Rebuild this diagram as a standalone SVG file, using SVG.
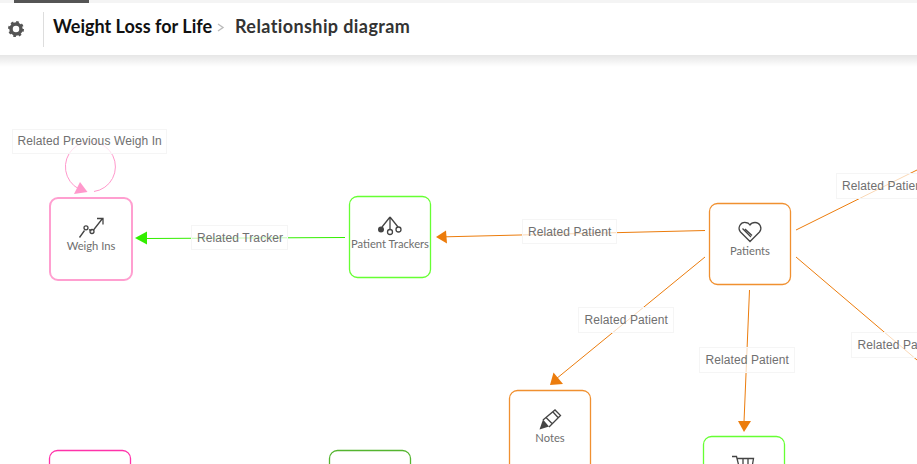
<svg xmlns="http://www.w3.org/2000/svg" width="917" height="464" viewBox="0 0 917 464">
<style>
.node{fill:#fff;stroke-width:1.3}
.nl{font-family:"Lato","Liberation Sans",sans-serif;font-size:11.2px;fill:#6e6e6e;text-anchor:middle}
.el{font-family:"Liberation Sans",Arial,sans-serif;font-size:12px;fill:#707070;letter-spacing:.1px}
.lb{fill:#fff;fill-opacity:.7;stroke:#f5f5f5;stroke-width:1}
.ic{fill:none;stroke:#444;stroke-width:1.3}
.or{stroke:#ec7c0c;stroke-width:1;fill:none}
.h{font-family:"Lato","Liberation Sans",sans-serif;font-size:18px;font-weight:700}
</style>
<defs><linearGradient id="sh" x1="0" y1="0" x2="0" y2="1"><stop offset="0" stop-color="#000" stop-opacity=".1"/><stop offset="1" stop-color="#000" stop-opacity="0"/></linearGradient></defs>
<rect width="917" height="464" fill="#fff"/>
<g id="header">
<rect width="917" height="3" fill="#f4f4f4"/>
<rect x="14" width="75" height="3" fill="#555"/>
<rect y="55" width="917" height="12" fill="url(#sh)"/>
<line x1="43.5" y1="12" x2="43.5" y2="47" stroke="#ddd"/>
<circle cx="16" cy="29" r="5" fill="none" stroke="#555" stroke-width="3.5"/>
<circle cx="16" cy="29" r="6.8" fill="none" stroke="#555" stroke-width="2.4" stroke-dasharray="2.6 2.74"/>
<text class="h" x="53" y="33" fill="#111">Weight Loss for Life</text>
<path d="M218 24l5 3.500-5 3.500" fill="none" stroke="#bbb" stroke-width="1.400"/>
<text class="h" x="235" y="33" fill="#333" letter-spacing=".4">Relationship diagram</text>
</g>
<g id="connectors">
<path d="M94 191.500A25 25 0 1 0 79 189" fill="none" stroke="#ff99cc"/>
<polygon points="80,182 87.500,192 74,194" fill="#ff99cc"/>
<line x1="345" y1="237.500" x2="146" y2="238.500" stroke="#33ee00"/>
<polygon points="135,238 147,231.500 147,244.500" fill="#33ee00"/>
<line class="or" x1="705" y1="230.500" x2="446" y2="236.800"/>
<polygon points="436,237 446,230.500 447,243.500" fill="#ec7c0c"/>
<line class="or" x1="705" y1="257" x2="556" y2="379"/>
<polygon points="550,385 553.500,372.500 563,384" fill="#ec7c0c"/>
<line class="or" x1="749.500" y1="290" x2="744" y2="422"/>
<polygon points="744,432 738,421 751,421" fill="#ec7c0c"/>
<line class="or" x1="796" y1="230" x2="917" y2="170"/>
<line class="or" x1="796" y1="257" x2="917" y2="360"/>
</g>
<g id="edge-labels">
<rect class="lb" x="12.500" y="129.500" width="154" height="24"/>
<text class="el" x="17.500" y="145">Related Previous Weigh In</text>
<rect class="lb" x="191.500" y="225.500" width="96" height="24"/>
<text class="el" x="197" y="242">Related Tracker</text>
<rect class="lb" x="522.500" y="219.500" width="94" height="24"/>
<text class="el" x="528" y="236">Related Patient</text>
<rect class="lb" x="836.500" y="173.500" width="95" height="25"/>
<text class="el" x="842" y="190">Related Patient</text>
<rect class="lb" x="851.500" y="332.500" width="95" height="25"/>
<text class="el" x="857.500" y="349">Related Patient</text>
<rect class="lb" x="578.500" y="307.500" width="95" height="25"/>
<text class="el" x="584.500" y="324">Related Patient</text>
<rect class="lb" x="699.500" y="347.500" width="95" height="25"/>
<text class="el" x="705.500" y="364">Related Patient</text>
</g>
<g id="weigh-ins">
<rect class="node" x="50" y="198" width="82" height="82" rx="8" stroke="#ff9fd0" style="stroke-width:2"/>
<path class="ic" d="M79.500 237.500l5-7M89 229.500l2.500 1.500M93.500 230l9-11.500M97 218.500h6v6"/>
<circle class="ic" cx="86" cy="227.800" r="2"/><circle class="ic" cx="92" cy="231.500" r="2"/>
<text class="nl" x="91" y="250">Weigh Ins</text>
</g>
<g id="patient-trackers">
<rect class="node" x="349.500" y="196.500" width="81" height="81" rx="8" stroke="#66ff33"/>
<path class="ic" d="M390 217l-8 10M390 217v13M390 217l8 10"/>
<circle cx="381" cy="229.500" r="3" fill="#444"/><circle class="ic" cx="390" cy="232" r="2.500"/><circle class="ic" cx="398.500" cy="229.500" r="2.500"/>
<text class="nl" x="390" y="248">Patient Trackers</text>
</g>
<g id="patients">
<rect class="node" x="709.500" y="203.500" width="81" height="81" rx="8" stroke="#f09030"/>
<path class="ic" d="M750 241.500l-9.500-9.500a5.800 5.800 0 0 1 5-9.500q3 0 4.500 2.500q1.500-2.500 5-2.500a5.800 5.800 0 0 1 4.500 9.500zM742.500 228.500l8.500 8.500M745 229l7 6.500"/>
<text class="nl" x="750" y="255">Patients</text>
</g>
<g id="notes">
<rect class="node" x="509.500" y="390.500" width="81" height="90" rx="8" stroke="#f09030"/>
<path class="ic" d="M543 420L555 410l5.500 5.500L549 427M546 417.500l6.500 6.500M553 412l5 5.500"/>
<path d="M539.500 429.500l3.500-10 6 7z" fill="#444"/>
<text class="nl" x="550" y="442">Notes</text>
</g>
<g id="cart-node">
<rect class="node" x="703.500" y="436.500" width="81" height="60" rx="8" stroke="#66ff33"/>
<path class="ic" d="M732 456.500h4.500l2 8M736.500 458.500h17l-1 6M743 458.500v6M748 458.500v6"/>
</g>
<g id="pink-node"><rect class="node" x="49.500" y="450.500" width="81" height="40" rx="8" stroke="#ff33aa"/></g>
<g id="green-node"><rect class="node" x="329.500" y="450.500" width="81" height="40" rx="8" stroke="#55b530"/></g>
</svg>
